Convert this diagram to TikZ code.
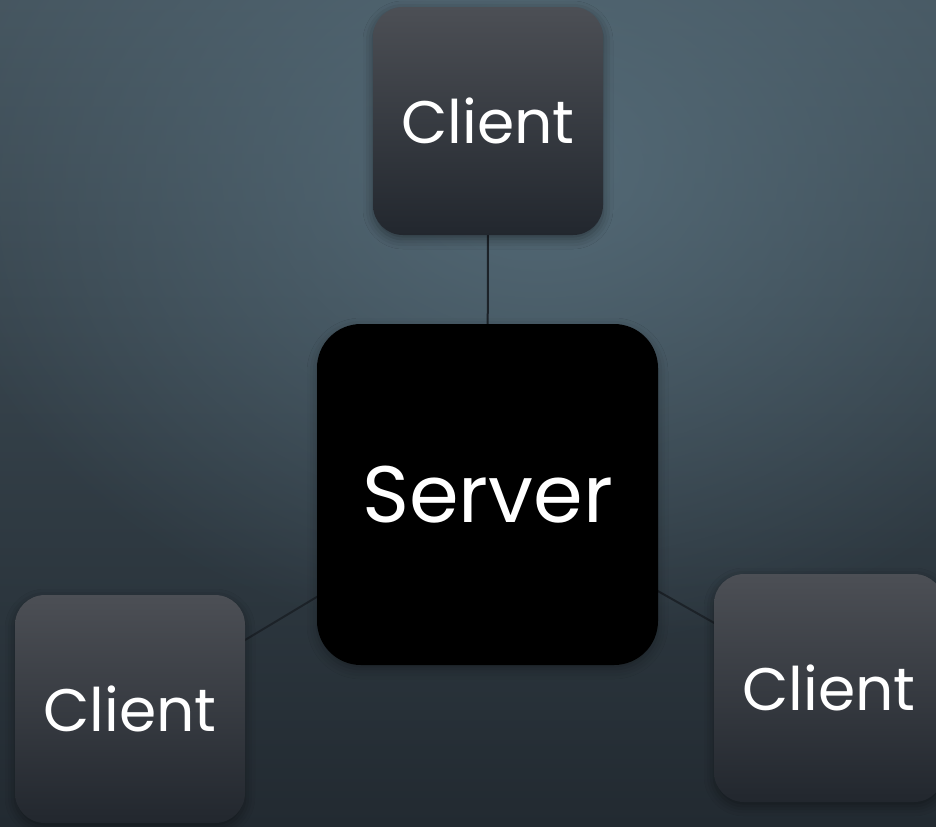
\documentclass[tikz,border=0pt]{standalone}
\usepackage{fontspec}
\setmainfont{Poppins}
\usetikzlibrary{shadows.blur,fadings}
\pgfdeclarelayer{bglayer}
\pgfdeclarelayer{linklayer}
\pgfsetlayers{bglayer,linklayer,main}
\tikzfading[name=glowfade, inner color=transparent!0, outer color=transparent!100]
\definecolor{bgTop}{HTML}{45555F}
\definecolor{bgMid}{HTML}{34424C}
\definecolor{bgBot}{HTML}{222A31}
\definecolor{bgGlow}{HTML}{566D7A}
\definecolor{cliTop}{HTML}{4C4F55}
\definecolor{cliBot}{HTML}{22272E}
\definecolor{linkcol}{HTML}{1C2228}
\tikzset{
  clientbox/.style={rectangle, rounded corners=15pt, minimum width=115pt, minimum height=114pt,
    top color=cliTop, bottom color=cliBot, text=white, inner sep=0pt,
    font=\fontsize{30}{36}\selectfont,
    blur shadow={shadow xshift=0pt, shadow yshift=-2pt, shadow blur radius=5pt, shadow opacity=40}},
  serverbox/.style={rectangle, rounded corners=22pt, minimum width=170.5pt, minimum height=170.5pt,
    fill=black, text=white, inner sep=0pt, font=\fontsize{40}{44}\selectfont,
    blur shadow={shadow xshift=0pt, shadow yshift=-2pt, shadow blur radius=5pt, shadow opacity=30}},
  link/.style={draw=linkcol, line width=1pt}
}
\begin{document}
\begin{tikzpicture}[x=0.5pt,y=-0.5pt]
  \useasboundingbox (0,0) rectangle (936,826);
  \node[serverbox] (server) at (487.5,494.5) {Server};
  \node[clientbox] (ctop) at (488,121) {Client};
  \node[clientbox] (cleft) at (130,709) {Client};
  \node[clientbox] (cright) at (829,688) {Client};
  \begin{pgfonlayer}{bglayer}
    \shade[top color=bgTop, middle color=bgMid, bottom color=bgBot] (0,0) rectangle (936,826);
    \begin{scope}
      \clip (0,0) rectangle (936,826);
      \fill[bgGlow, path fading=glowfade, fill opacity=0.9] (540,170) ellipse (620 and 480);
    \end{scope}
  \end{pgfonlayer}
  \begin{pgfonlayer}{linklayer}
    \draw[link] (ctop.center) -- (server.center);
    \draw[link] (cleft.center) -- (server.center);
    \draw[link] (cright.center) -- (server.center);
  \end{pgfonlayer}
\end{tikzpicture}
\end{document}
